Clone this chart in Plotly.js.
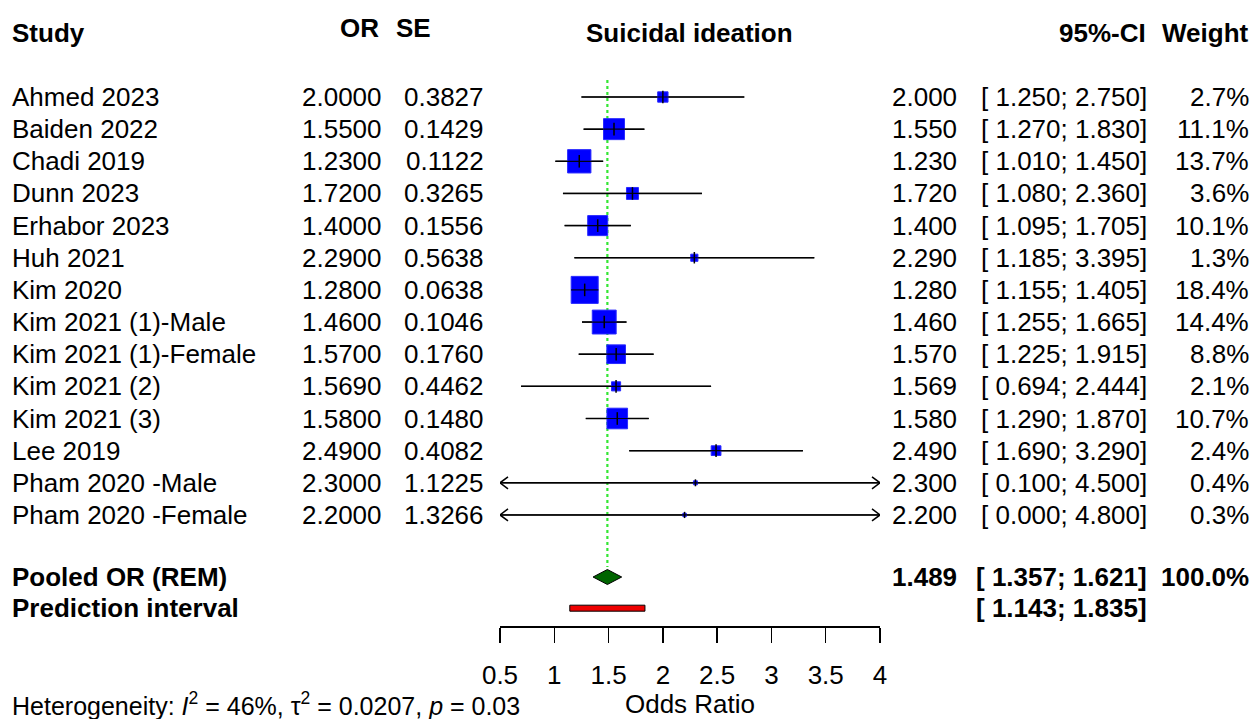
<!DOCTYPE html>
<html>
<head>
<meta charset="utf-8">
<script src="https://cdn.plot.ly/plotly-3.0.1.min.js"></script>
<style>html,body{margin:0;padding:0;background:#fff;}#chart{width:1255px;height:719px;}</style>
</head>
<body>
<div id="chart"></div>
<script>
// ---------- data ----------
const studies = ["Ahmed 2023","Baiden 2022","Chadi 2019","Dunn 2023","Erhabor 2023","Huh 2021","Kim 2020",
  "Kim 2021 (1)-Male","Kim 2021 (1)-Female","Kim 2021 (2)","Kim 2021 (3)","Lee 2019","Pham 2020 -Male","Pham 2020 -Female"];
const orValues = [2.0000,1.5500,1.2300,1.7200,1.4000,2.2900,1.2800,1.4600,1.5700,1.5690,1.5800,2.4900,2.3000,2.2000];
const seValues = [0.3827,0.1429,0.1122,0.3265,0.1556,0.5638,0.0638,0.1046,0.1760,0.4462,0.1480,0.4082,1.1225,1.3266];
const ciLower = [1.250,1.270,1.010,1.080,1.095,1.185,1.155,1.255,1.225,0.694,1.290,1.690,0.100,0.000];
const ciUpper = [2.750,1.830,1.450,2.360,1.705,3.395,1.405,1.665,1.915,2.444,1.870,3.290,4.500,4.800];
const weights = [2.7,11.1,13.7,3.6,10.1,1.3,18.4,14.4,8.8,2.1,10.7,2.4,0.4,0.3];
const pooledOR = 1.489, pooledLower = 1.357, pooledUpper = 1.621, pooledWeight = 100.0;
const predLower = 1.143, predUpper = 1.835;
const xTickVals = [0.5,1,1.5,2,2.5,3,3.5,4];
const xTickText = ["0.5","1","1.5","2","2.5","3","3.5","4"];
const heterogeneity = "Heterogeneity: <i>I</i><sup>2</sup> = 46%, τ<sup>2</sup> = 0.0207, <i>p</i> = 0.03";

// ---------- layout helpers ----------
const W = 1255, H = 719;
const X_MIN = 0.5, X_MAX = 4;
const rowPx0 = 97, rowStep = 32.15;
const yTop = -rowPx0 / rowStep, yBot = (H - rowPx0) / rowStep;
const rows = studies.map((_, i) => i);
const pooledRow = 14.93, predRow = 15.9, headRow = -2.0, headRow2 = -2.14;
const FONT = "Liberation Sans, Arial, Helvetica, sans-serif";
const FS = 26;
const px = v => v / W;
const pxPerX = (880 - 500) / (X_MAX - X_MIN);

const traces = [];

// reference line at pooled estimate
traces.push({x:[pooledOR,pooledOR], y:[-0.53,14.62], mode:"lines",
  line:{color:"#33e633", width:2.2, dash:"dot"}, hoverinfo:"skip", showlegend:false});

// CI lines (clipped)
const cx = [], cy = [];
rows.forEach(i => { cx.push(Math.max(ciLower[i],X_MIN), Math.min(ciUpper[i],X_MAX), null); cy.push(i,i,null); });
traces.push({x:cx, y:cy, mode:"lines", line:{color:"#000", width:1.5}, hoverinfo:"skip", showlegend:false});

// arrow chevrons for clipped CIs
const dx = 8 / pxPerX, dy = 6 / rowStep;
const ax = [], ay = [];
rows.forEach(i => {
  if (ciLower[i] < X_MIN) { ax.push(X_MIN+dx, X_MIN, X_MIN+dx, null); ay.push(i-dy, i, i+dy, null); }
  if (ciUpper[i] > X_MAX) { ax.push(X_MAX-dx, X_MAX, X_MAX-dx, null); ay.push(i-dy, i, i+dy, null); }
});
traces.push({x:ax, y:ay, mode:"lines", line:{color:"#000", width:1.5}, hoverinfo:"skip", showlegend:false});

// squares
traces.push({x:orValues, y:rows, mode:"markers", hoverinfo:"skip", showlegend:false,
  marker:{symbol:"square", color:"#0000ff", opacity:1, size:weights.map(w => 6.3*Math.sqrt(w)), line:{color:"#2a2aff", width:1}}});
// CI line through squares (drawn on top, as in the reference)
traces.push({x:cx, y:cy, mode:"lines", line:{color:"#000", width:1.2}, hoverinfo:"skip", showlegend:false, opacity:0.9});
// estimate ticks
traces.push({x:orValues, y:rows, mode:"markers", hoverinfo:"skip", showlegend:false,
  marker:{symbol:"line-ns-open", color:"#000", opacity:1, size:weights.map(w => Math.min(9, 6.3*Math.sqrt(w)+1)), line:{color:"#000", width:1.5}}});

// diamond
const dh = 7.5 / rowStep;
traces.push({x:[pooledLower,pooledOR,pooledUpper,pooledOR,pooledLower], y:[pooledRow,pooledRow-dh,pooledRow,pooledRow+dh,pooledRow],
  mode:"lines", fill:"toself", fillcolor:"#006400", line:{color:"#000", width:1}, hoverinfo:"skip", showlegend:false});

// prediction interval bar
const ph = 3 / rowStep;
traces.push({x:[predLower,predUpper,predUpper,predLower,predLower], y:[predRow-ph,predRow-ph,predRow+ph,predRow+ph,predRow-ph],
  mode:"lines", fill:"toself", fillcolor:"#ee0000", line:{color:"#000", width:1}, hoverinfo:"skip", showlegend:false});

// ---------- text ----------
const ann = [];
function t(text, xPx, y, anchor, bold, extra) {
  ann.push(Object.assign({text: bold ? "<b>"+text+"</b>" : text, xref:"paper", yref:"y", x:px(xPx), y:y,
    xanchor:anchor, yanchor:"middle", showarrow:false, font:{family:FONT, size:FS, color:"#000"}}, extra||{}));
}
t("Study", 10, headRow, "left", true);
t("OR", 381, headRow2, "right", true);
t("SE", 433, headRow2, "right", true);
t("Suicidal ideation", 689.5, headRow, "center", true);
t("95%-CI", 1148, headRow, "right", true);
t("Weight", 1251, headRow, "right", true);
const fmtCI = (l,u) => "[ " + l.toFixed(3) + "; " + u.toFixed(3) + "]";
rows.forEach(i => {
  t(studies[i], 10, i, "left", false);
  t(orValues[i].toFixed(4), 384, i, "right", false);
  t(seValues[i].toFixed(4), 486, i, "right", false);
  t(orValues[i].toFixed(3), 959, i, "right", false);
  t(fmtCI(ciLower[i], ciUpper[i]), 1149, i, "right", false);
  t(weights[i].toFixed(1) + "%", 1251, i, "right", false);
});
t("Pooled OR (REM)", 10, pooledRow, "left", true);
t(pooledOR.toFixed(3), 959, pooledRow, "right", true);
t(fmtCI(pooledLower, pooledUpper), 1149, pooledRow, "right", true);
t(pooledWeight.toFixed(1) + "%", 1251, pooledRow, "right", true);
t("Prediction interval", 10, predRow, "left", true);
t(fmtCI(predLower, predUpper), 1149, predRow, "right", true);
ann.push({text:heterogeneity, xref:"paper", yref:"paper", x:px(10), y:1 - 704/H, xanchor:"left", yanchor:"middle",
  showarrow:false, font:{family:FONT, size:25, color:"#000"}});

const layout = {
  width: W, height: H, margin:{l:0, r:0, t:0, b:0, pad:0},
  paper_bgcolor:"#fff", plot_bgcolor:"#fff", showlegend:false,
  font:{family:FONT, size:FS, color:"#000"},
  xaxis:{domain:[px(500), px(880)], range:[X_MIN, X_MAX], anchor:"free", position:1 - 626/H,
    tickmode:"array", tickvals:xTickVals, ticktext:xTickText, ticks:"outside", ticklen:15, tickwidth:1.5, tickcolor:"#000",
    showline:true, linecolor:"#000", linewidth:1.5, showgrid:false, zeroline:false, automargin:false,
    ticklabelstandoff:10, tickfont:{family:FONT, size:FS, color:"#000"},
    title:{text:"Odds Ratio", font:{family:FONT, size:FS, color:"#000"}, standoff:19}},
  yaxis:{domain:[0,1], range:[yBot, yTop], visible:false, automargin:false},
  annotations: ann
};
Plotly.newPlot("chart", traces, layout, {staticPlot:true, displayModeBar:false});
</script>
</body>
</html>
